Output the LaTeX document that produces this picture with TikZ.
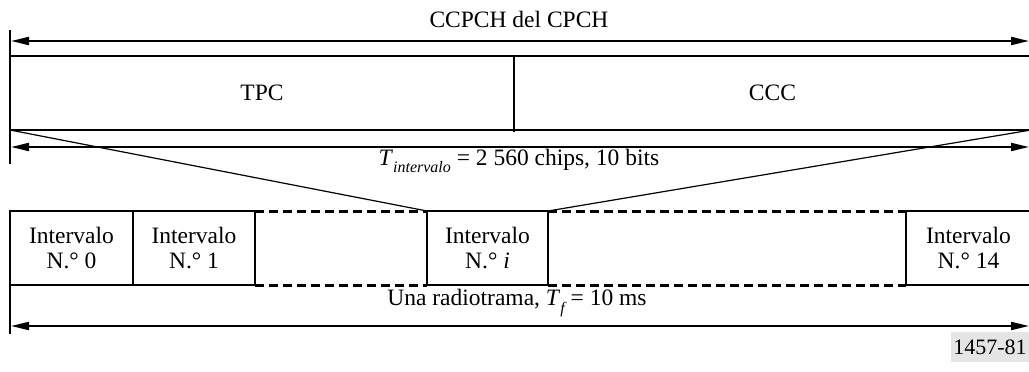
\documentclass[tikz,border=0pt]{standalone}
\usepackage{fontspec}
\setmainfont{Liberation Serif}
\usetikzlibrary{arrows.meta}
\definecolor{codegray}{RGB}{229,229,229}
\newcommand{\subit}[1]{\raisebox{-0.32em}{\fontsize{16}{16}\selectfont\itshape #1}}
\begin{document}
\begin{tikzpicture}[x=1pt,y=-1pt,
  box/.style={draw,line width=1.8pt,minimum height=74pt,inner sep=0pt,outer sep=0pt,align=center,font=\fontsize{23.5}{25}\selectfont},
  lbl/.style={font=\fontsize{23.5}{25}\selectfont,inner sep=0pt},
  dim/.style={line width=2pt,{Triangle[length=18pt,width=8pt]}-{Triangle[length=18pt,width=8pt]}},
  tickline/.style={line width=2pt},
  fan/.style={line width=1.2pt},
  gap/.style={line width=3pt,dash pattern=on 9pt off 5pt},
  divider/.style={line width=2.8pt}]
\useasboundingbox (0,0) rectangle (1029,372);
\clip (0,0) rectangle (1029,372);

% top frame
\node[lbl] (title) at (519,19) {CCPCH del CPCH};
\coordinate (t1a) at (10,30);
\coordinate (t1b) at (10,56);
\coordinate (a1l) at (11,41);
\coordinate (a1r) at (1029,41);
\draw[tickline] (t1a) -- (t1b);
\draw[dim] (a1l) -- (a1r);

\node[box,minimum width=504pt] (tpc) at (262,93) {TPC};
\node[box,minimum width=517pt] (ccc) at (772.5,93) {CCC};
\draw[divider] (tpc.north east) -- ([yshift=-2pt]tpc.south east);

% slot dimension
\coordinate (t2a) at (10,130);
\coordinate (t2b) at (10,164);
\coordinate (a2l) at (11,147);
\coordinate (a2r) at (1029,147);
\draw[tickline] (t2a) -- (t2b);
\draw[dim] (a2l) -- (a2r);
\node[lbl] (tint) at (519,161) {\textit{T}\subit{intervalo} = 2 560 chips, 10 bits};

% slots
\node[box,minimum width=123pt] (s0) at (71.5,248) {Intervalo\\N.° 0};
\node[box,minimum width=122pt] (s1) at (194,248) {Intervalo\\N.° 1};
\node[box,minimum width=121pt] (si) at (487.5,248) {Intervalo\\N.° \textit{i}};
\node[box,minimum width=125pt] (s14) at (968.5,248) {Intervalo\\N.° 14};
\draw[divider] (s0.north east) -- (s0.south east);

\draw[gap] (s1.north east) -- (si.north west);
\draw[gap] (s1.south east) -- (si.south west);
\draw[gap] (si.north east) -- (s14.north west);
\draw[gap] (si.south east) -- (s14.south west);

% fan lines
\draw[fan] (tpc.south west) -- (si.north west);
\draw[fan] (ccc.south east) -- (si.north east);

% frame dimension
\node[lbl] (frame) at (517,303) {Una radiotrama, \textit{T}\subit{f} = 10 ms};
\coordinate (t3a) at (10,285);
\coordinate (t3b) at (10,334);
\coordinate (a3l) at (11,326);
\coordinate (a3r) at (1029,326);
\draw[tickline] (t3a) -- (t3b);
\draw[dim] (a3l) -- (a3r);

\node[fill=codegray,minimum width=78pt,minimum height=30pt,inner sep=0pt,font=\fontsize{22}{25}\selectfont] (code) at (990,347) {1457-81};
\end{tikzpicture}
\end{document}
